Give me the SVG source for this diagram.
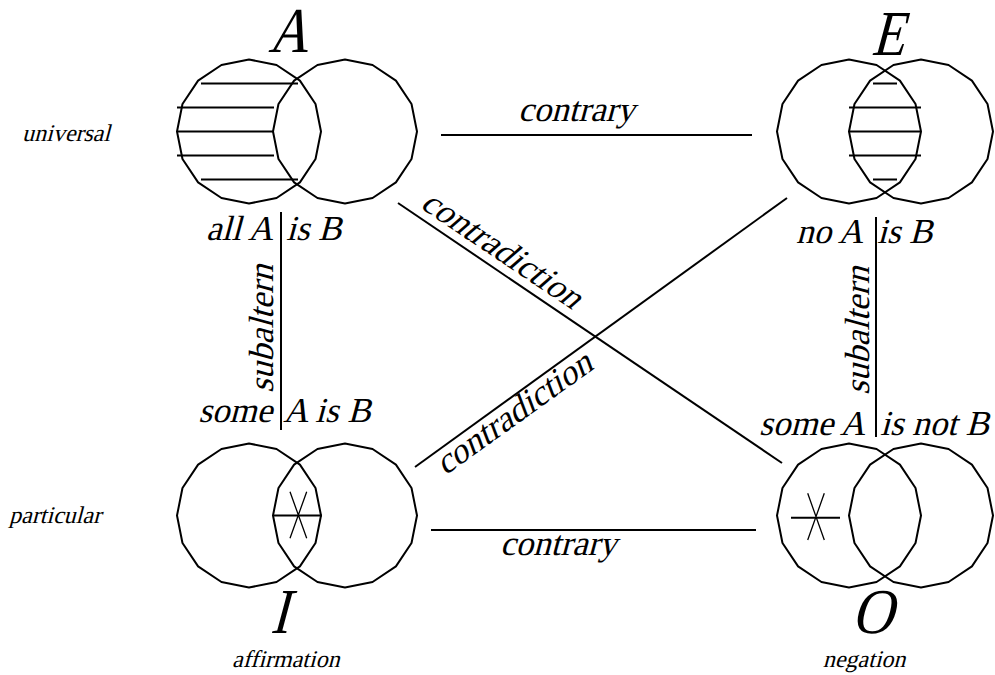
<svg xmlns="http://www.w3.org/2000/svg" width="995" height="675" viewBox="0 0 995 675">
<style>
text{fill:#000}
.big{font-size:64px}
.mid{font-size:35px}
.sm{font-size:24px}
.c{fill:none;stroke:#000;stroke-width:2;stroke-linejoin:round}
.ln{stroke:#000;stroke-width:2;fill:none}
.th{stroke:#000;stroke-width:1.3;fill:none}
</style>
<defs>
<polygon id="circ" class="c" points="72,0 66.52,27.55 50.91,50.91 27.55,66.52 0,72 -27.55,66.52 -50.91,50.91 -66.52,27.55 -72,0 -66.52,-27.55 -50.91,-50.91 -27.55,-66.52 0,-72 27.55,-66.52 50.91,-50.91 66.52,-27.55"/>
</defs>
<rect width="995" height="675" fill="#fff"/>
<g font-family="'Liberation Serif', serif">
<g id="side-labels">
<text class="sm" transform="translate(22,141) skewX(-15)">universal</text>
<text class="sm" transform="translate(9,523) skewX(-15)">particular</text>
<text class="sm" transform="translate(232,667) skewX(-15)">affirmation</text>
<text class="sm" text-anchor="middle" transform="translate(864,667) skewX(-15)">negation</text>
</g>
<g id="nodeA">
<text class="big" transform="translate(268,52) skewX(-15) scale(0.86,1)">A</text>
<use href="#circ" x="249" y="131.5"/>
<use href="#circ" x="345" y="131.5"/>
<path class="ln" d="M201,83.5H298M177,107.5H274M177,131.5H273M177,155.5H274M201,179.5H298"/>
<text class="mid" text-anchor="end" transform="translate(273,240) skewX(-15)">all A</text>
<text class="mid" transform="translate(286,240) skewX(-15)">is B</text>
</g>
<g id="nodeE">
<text class="big" transform="translate(871,55) skewX(-15) scale(0.84,1)">E</text>
<use href="#circ" x="849" y="131.5"/>
<use href="#circ" x="921" y="131.5"/>
<path class="ln" d="M873,83.5H897M849,107.5H921M849,131.5H921M849,155.5H921M873,179.5H897"/>
<text class="mid" text-anchor="end" transform="translate(863,242.5) skewX(-15)">no A</text>
<text class="mid" transform="translate(877,242.5) skewX(-15)">is B</text>
</g>
<g id="nodeI">
<text class="mid" text-anchor="end" transform="translate(272,422) skewX(-15)">some</text>
<text class="mid" transform="translate(283,422) skewX(-15)">A is B</text>
<use href="#circ" x="249" y="515.5"/>
<use href="#circ" x="345" y="515.5"/>
<path class="ln" d="M274,515.5H322"/>
<path class="th" d="M290,491.7L306.7,538.3M306.7,491.7L290,538.3"/>
<text class="big" transform="translate(270,633) skewX(-15) scale(0.85,1)">I</text>
</g>
<g id="nodeO">
<text class="mid" text-anchor="end" transform="translate(865,435) skewX(-15)">some A</text>
<text class="mid" transform="translate(880,435) skewX(-15)">is not B</text>
<use href="#circ" x="849" y="515.5"/>
<use href="#circ" x="921" y="515.5"/>
<path class="ln" d="M791,517.7H840"/>
<path class="th" d="M807.7,493.3L824.3,540M824.3,493.3L807.7,540"/>
<text class="big" transform="translate(851,633) skewX(-15) scale(0.9,1)">O</text>
</g>
<g id="connectors">
<path class="ln" d="M441,135H752"/>
<path class="ln" d="M431,530H756"/>
<path class="ln" d="M281,212V430"/>
<path class="ln" d="M876,217V437"/>
<path class="ln" d="M398,203L782,463"/>
<path class="ln" d="M415,467L787,198"/>
<text class="mid" font-size="37" transform="translate(518,121) skewX(-15)">contrary</text>
<text class="mid" font-size="37" transform="translate(500,555) skewX(-15)">contrary</text>
<text class="mid" transform="translate(273,393) rotate(-90) skewX(-15)">subaltern</text>
<text class="mid" transform="translate(869,395) rotate(-90) skewX(-15)">subaltern</text>
<text class="mid" transform="translate(419,207) rotate(33.9) skewX(-15)">contradiction</text>
<text class="mid" transform="translate(445,476) rotate(-35.7) skewX(-15)">contradiction</text>
</g>
</g>
</svg>
